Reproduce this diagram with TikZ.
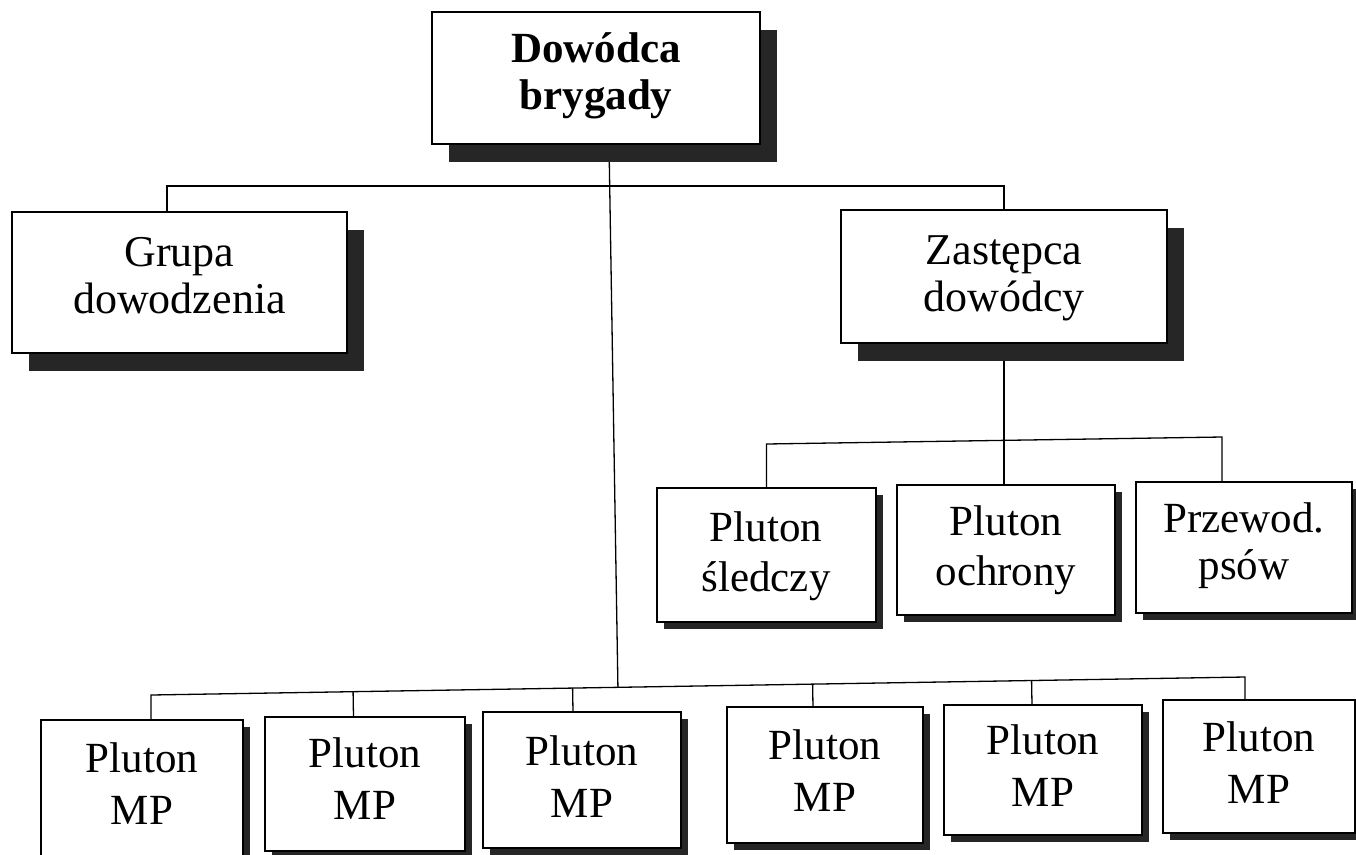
\documentclass[tikz,border=0pt]{standalone}
\usepackage{fontspec}
\setmainfont{Liberation Serif}
\usetikzlibrary{shadows,backgrounds,calc}
\begin{document}
\begin{tikzpicture}[x=1pt,y=-1pt,
  box/.style={draw=black, line width=1.6pt, fill=white, inner sep=0pt, outer sep=0pt, rectangle},
  bigshadow/.style={general shadow={fill=black!85, shadow xshift=17pt, shadow yshift=-18pt}},
  smallshadow/.style={general shadow={fill=black!85, shadow xshift=7pt, shadow yshift=-7pt}},
  wire/.style={draw=black, line width=1.3pt},
  boldtxt/.style={align=center, inner sep=0pt, font=\fontsize{43}{47}\selectfont\bfseries},
  bigtxt/.style={align=center, inner sep=0pt, font=\fontsize{44}{47}\selectfont},
  midtxt/.style={align=center, inner sep=0pt, font=\fontsize{43}{50}\selectfont},
  mptxt/.style={align=center, inner sep=0pt, font=\fontsize{43}{52}\selectfont}
]
\useasboundingbox (0,0) rectangle (1356,854);

% boxes
\node[box, bigshadow, minimum width=328pt, minimum height=132pt] (top) at (596,78) {};
\node[box, bigshadow, minimum width=335pt, minimum height=141pt] (grp) at (179.5,282.5) {};
\node[box, bigshadow, minimum width=326pt, minimum height=133pt] (zast) at (1004,276.5) {};

\node[box, smallshadow, minimum width=219pt, minimum height=134pt] (sled) at (766.5,555) {};
\node[box, smallshadow, minimum width=218pt, minimum height=130pt] (ochr) at (1006,550) {};
\node[box, smallshadow, minimum width=216pt, minimum height=131pt] (psow) at (1244,547.5) {};

\node[box, smallshadow, minimum width=202pt, minimum height=140pt] (mp1) at (142,790) {};
\node[box, smallshadow, minimum width=200pt, minimum height=134pt] (mp2) at (365,784) {};
\node[box, smallshadow, minimum width=198pt, minimum height=136pt] (mp3) at (582,780) {};
\node[box, smallshadow, minimum width=196pt, minimum height=136pt] (mp4) at (825,775) {};
\node[box, smallshadow, minimum width=198pt, minimum height=130pt] (mp5) at (1043,770) {};
\node[box, smallshadow, minimum width=192pt, minimum height=133pt] (mp6) at (1259,766.5) {};

% texts
\node[boldtxt] (top-t) at (596,76) {Dowódca\\brygady};
\node[bigtxt] (grp-t) at (179.5,276) {Grupa\\dowodzenia};
\node[bigtxt] (zast-t) at (1004,278) {Zastępca\\dowódcy};
\node[midtxt] (sled-t) at (766,556) {Pluton\\śledczy};
\node[midtxt] (ochr-t) at (1006,550) {Pluton\\ochrony};
\node[font=\fontsize{43}{47}\selectfont, align=center, inner sep=0pt] (psow-t) at (1244,546) {Przewod.\\psów};
\node[mptxt] (mp1-t) at (142,784) {Pluton\\MP};
\node[mptxt] (mp2-t) at (365,779) {Pluton\\MP};
\node[mptxt] (mp3-t) at (582,777) {Pluton\\MP};
\node[mptxt] (mp4-t) at (825,771) {Pluton\\MP};
\node[mptxt] (mp5-t) at (1043,766) {Pluton\\MP};
\node[mptxt] (mp6-t) at (1259,763) {Pluton\\MP};

% connectors
\begin{scope}[on background layer]
  \fill[white] (0,0) rectangle (1356,854);
  % top level bus
  \draw[wire] ([xshift=-12.5pt]grp.north) -- ++(0,-26) -| (zast.north);
  % deputy to its platoons
  \draw[wire] (zast.south) -- (zast.south |- ochr.north);
  \draw[wire] (sled.north) -- ++(0,-44) -- ($([xshift=-22pt]psow.north)+(0,-45)$) -- ([xshift=-22pt]psow.north);
  % bottom bus
  \draw[wire] ([xshift=9pt]mp1.north) -- ++(0,-25) coordinate (bb1)
     -- ($([xshift=-14pt]mp6.north)+(0,-23)$) coordinate (bb2) -- ([xshift=-14pt]mp6.north);
  \draw[wire] ([xshift=-11.5pt]mp2.north) -- ($(bb1)!([xshift=-11.5pt]mp2.north)!(bb2)$);
  \draw[wire] ([xshift=-9pt]mp3.north) -- ($(bb1)!([xshift=-9pt]mp3.north)!(bb2)$);
  \draw[wire] ([xshift=-12pt]mp4.north) -- ($(bb1)!([xshift=-12pt]mp4.north)!(bb2)$);
  \draw[wire] ([xshift=-11pt]mp5.north) -- ($(bb1)!([xshift=-11pt]mp5.north)!(bb2)$);
  % commander down to bottom bus
  \draw[wire] ([xshift=13pt]top.south) -- ($(bb1)!([xshift=13pt]top.south)!(bb2)$);
\end{scope}
\end{tikzpicture}
\end{document}
